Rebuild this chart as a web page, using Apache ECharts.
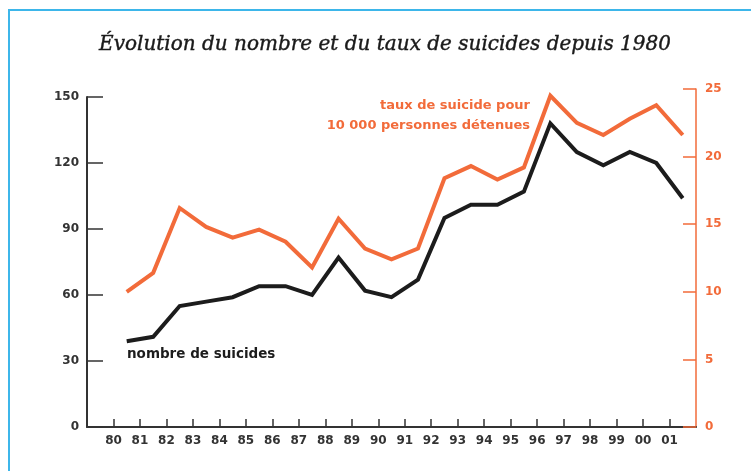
<!DOCTYPE html>
<html>
<head>
<meta charset="utf-8">
<script src="https://cdn.jsdelivr.net/npm/echarts@6/dist/echarts.min.js"></script>
<style>
html,body{margin:0;padding:0;background:#fff;}
#chart{width:751px;height:471px;}
</style>
</head>
<body>
<div id="chart"></div>
<script>
// Years (ticks) and values (plotted at mid-year)
const years = [1980,1981,1982,1983,1984,1985,1986,1987,1988,1989,1990,1991,1992,1993,1994,1995,1996,1997,1998,1999,2000,2001];
const tickLabels = ['80','81','82','83','84','85','86','87','88','89','90','91','92','93','94','95','96','97','98','99','00','01'];
const nombreSuicides = [39,41,55,57,59,64,64,60,77,62,59,67,95,101,101,107,138,125,119,125,120,104];
const tauxSuicide = [10.0,11.4,16.2,14.8,14.0,14.6,13.7,11.8,15.4,13.2,12.4,13.2,18.4,19.3,18.3,19.2,24.5,22.5,21.6,22.8,23.8,21.6];
const leftTicks = [0,30,60,90,120,150];
const rightTicks = [0,5,10,15,20,25];

const ORANGE = '#f26b3a';
const BLACK = '#1c1c1c';
const sans = "'DejaVu Sans', 'Liberation Sans', sans-serif";

const chart = echarts.init(document.getElementById('chart'), null, {renderer:'canvas'});

const labelMap = {};
years.forEach((y,i)=>{ labelMap[y] = tickLabels[i]; });

const option = {
  animation: false,
  backgroundColor: '#ffffff',
  grid: [
    {left: 87, right: 55, top: 97, bottom: 44},
    {left: 87, right: 55, top: 89, bottom: 44}
  ],
  xAxis: [
    {
      gridIndex: 0, type: 'value', min: 1979, max: 2002, interval: 1,
      axisLine: {show: true, lineStyle: {color: '#333', width: 2}},
      axisTick: {show: true, inside: true, length: 8, customValues: years, lineStyle: {color: '#333', width: 1.5}},
      axisLabel: {show: true, customValues: years, margin: 8, formatter: v => labelMap[v] || '',
        color: '#333', fontFamily: sans, fontSize: 12, fontWeight: 'bold'},
      splitLine: {show: false}
    },
    {
      gridIndex: 1, type: 'value', min: 1979, max: 2002, show: false
    }
  ],
  yAxis: [
    {
      gridIndex: 0, type: 'value', position: 'left', min: 0, max: 150, interval: 30,
      axisLine: {show: true, lineStyle: {color: '#333', width: 2}},
      axisTick: {show: true, inside: true, length: 16, lineStyle: {color: '#333', width: 1.5}},
      axisLabel: {show: true, margin: 8, color: '#333', fontFamily: sans, fontSize: 12, fontWeight: 'bold',
        customValues: leftTicks},
      splitLine: {show: false}
    },
    {
      gridIndex: 1, type: 'value', position: 'right', min: 0, max: 25, interval: 5,
      axisLine: {show: true, lineStyle: {color: ORANGE, width: 1.5}},
      axisTick: {show: true, inside: true, length: 13, lineStyle: {color: ORANGE, width: 1.5}},
      axisLabel: {show: true, margin: 9, color: ORANGE, fontFamily: sans, fontSize: 12, fontWeight: 'bold',
        customValues: rightTicks},
      splitLine: {show: false}
    }
  ],
  series: [
    {
      name: 'taux de suicide pour 10 000 personnes détenues',
      type: 'line', xAxisIndex: 1, yAxisIndex: 1,
      data: years.map((y,i)=>[y+0.5, tauxSuicide[i]]),
      symbol: 'none', lineStyle: {color: ORANGE, width: 4, join: 'miter'}, z: 3
    },
    {
      name: 'nombre de suicides',
      type: 'line', xAxisIndex: 0, yAxisIndex: 0,
      data: years.map((y,i)=>[y+0.5, nombreSuicides[i]]),
      symbol: 'none', lineStyle: {color: BLACK, width: 4, join: 'miter'}, z: 4
    }
  ],
  graphic: [
    {type: 'rect', shape: {x: 9, y: 10, width: 800, height: 500}, style: {fill: 'none', stroke: '#3db6ea', lineWidth: 2}, z: 0, silent: true},
    {type: 'text', x: 385, y: 45, style: {text: 'Évolution du nombre et du taux de suicides depuis 1980',
      font: "italic 20px 'DejaVu Serif', serif", fill: '#1a1a1a', stroke: '#1a1a1a', lineWidth: 0.4,
      align: 'center', verticalAlign: 'middle'}},
    {type: 'text', x: 530, y: 106, style: {text: 'taux de suicide pour',
      font: "bold 13px " + sans, fill: ORANGE, align: 'right', verticalAlign: 'middle'}},
    {type: 'text', x: 530, y: 126, style: {text: '10 000 personnes détenues',
      font: "bold 13px " + sans, fill: ORANGE, align: 'right', verticalAlign: 'middle'}},
    {type: 'text', x: 127, y: 354, style: {text: 'nombre de suicides',
      font: "bold 13.5px " + sans, fill: BLACK, align: 'left', verticalAlign: 'middle'}}
  ]
};
chart.setOption(option);
</script>
</body>
</html>
